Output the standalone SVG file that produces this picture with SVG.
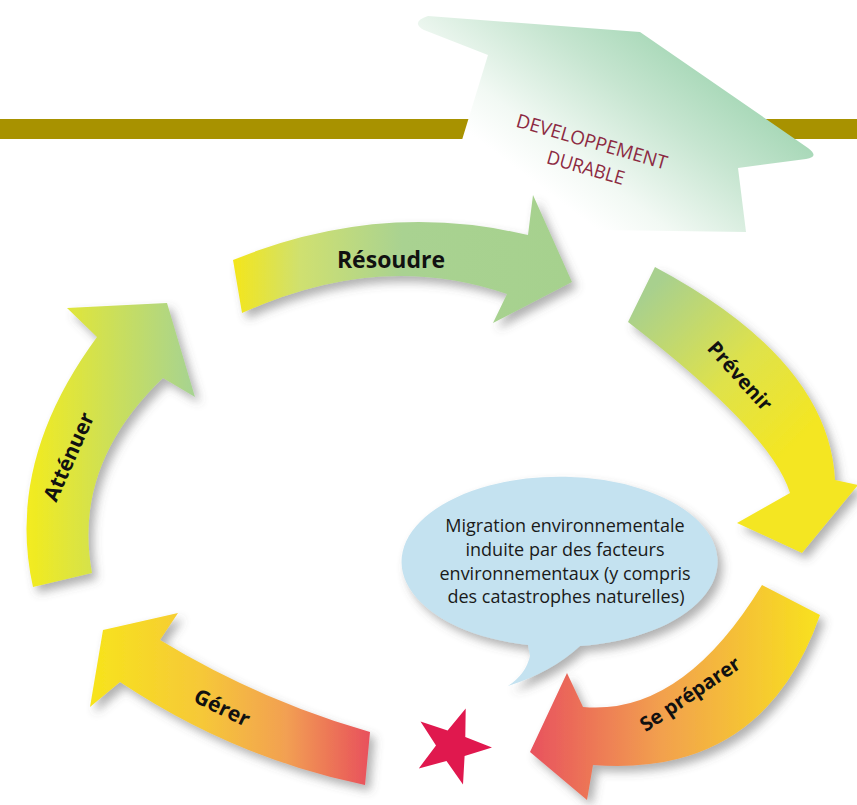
<svg xmlns="http://www.w3.org/2000/svg" width="857" height="805" viewBox="0 0 857 805">
<defs>
  <style>
    .lbl { font-family: "Open Sans", "Liberation Sans", sans-serif; font-weight: 700; fill: #111; text-anchor: middle; }
    .btxt { font-family: "Open Sans", "Liberation Sans", sans-serif; font-size: 18px; fill: #1a1a1a; text-anchor: middle; }
    .htxt { font-family: "Open Sans", "Liberation Sans", sans-serif; font-size: 19px; fill: #8c2a42; text-anchor: middle; }
  </style>
  <filter id="sh" x="-20%" y="-20%" width="140%" height="150%">
    <feDropShadow dx="5" dy="6" stdDeviation="5" flood-color="#555" flood-opacity="0.45"/>
  </filter>
  <linearGradient id="gHouse" gradientUnits="userSpaceOnUse" x1="730" y1="60" x2="600" y2="232">
    <stop offset="0" stop-color="#9ed4b0"/>
    <stop offset="0.4" stop-color="#c6e5d0"/>
    <stop offset="0.8" stop-color="#f2f9f4"/>
    <stop offset="1" stop-color="#ffffff"/>
  </linearGradient>
  <linearGradient id="gRes" gradientUnits="userSpaceOnUse" x1="233" y1="0" x2="572" y2="0">
    <stop offset="0" stop-color="#f4e61a"/>
    <stop offset="0.2" stop-color="#cfe070"/>
    <stop offset="0.5" stop-color="#a9d291"/>
    <stop offset="1" stop-color="#a6d18e"/>
  </linearGradient>
  <linearGradient id="gPre" gradientUnits="userSpaceOnUse" x1="640" y1="300" x2="790" y2="450">
    <stop offset="0" stop-color="#a8d08e"/>
    <stop offset="0.55" stop-color="#dfe24a"/>
    <stop offset="1" stop-color="#f4e622"/>
  </linearGradient>
  <linearGradient id="gSe" gradientUnits="userSpaceOnUse" x1="530" y1="0" x2="820" y2="0">
    <stop offset="0" stop-color="#e8525e"/>
    <stop offset="0.45" stop-color="#f2a04e"/>
    <stop offset="1" stop-color="#f8e21e"/>
  </linearGradient>
  <linearGradient id="gGe" gradientUnits="userSpaceOnUse" x1="90" y1="0" x2="370" y2="0">
    <stop offset="0" stop-color="#f7e41c"/>
    <stop offset="0.4" stop-color="#f6c838"/>
    <stop offset="0.7" stop-color="#f2a052"/>
    <stop offset="1" stop-color="#e8505c"/>
  </linearGradient>
  <linearGradient id="gAt" gradientUnits="userSpaceOnUse" x1="25" y1="0" x2="195" y2="0">
    <stop offset="0" stop-color="#f4ec1c"/>
    <stop offset="1" stop-color="#a6d392"/>
  </linearGradient>
</defs>

<rect width="857" height="805" fill="#ffffff"/>

<!-- gold band -->
<rect id="band" x="0" y="119" width="857" height="20" fill="#a89200"/>

<g id="house">
  <path d="M428,16 L640,32 L808,148 Q820,157 806,159 L738,168 L746,232 L458,228 L462,140 L488,55 L424,30 Q410,22 428,16 Z" fill="url(#gHouse)"/>
  <text class="htxt" transform="translate(590,148) rotate(16)" textLength="156" lengthAdjust="spacingAndGlyphs">DEVELOPPEMENT</text>
  <text class="htxt" transform="translate(584,174) rotate(16)" textLength="80" lengthAdjust="spacingAndGlyphs">DURABLE</text>
</g>

<g id="connectors">
  <g id="arrow-resoudre">
    <path d="M233,260 Q380,200 528,235 L533,195 L572,282 L493,323 L507,294 Q380,250 242,313 Z" fill="url(#gRes)" filter="url(#sh)"/>
    <text class="lbl" font-size="23" x="391" y="268">Résoudre</text>
  </g>
  <g id="arrow-prevenir">
    <path d="M655,267 Q829,360 835,480 L858,485 L802,553 L737,523 L790,493 Q771,432 628,322 Z" fill="url(#gPre)" filter="url(#sh)"/>
    <text class="lbl" font-size="20" transform="translate(740,376) rotate(48)" y="7">Prévenir</text>
  </g>
  <g id="arrow-sepreparer">
    <path d="M762,585 L820,615 Q763,778 593,765 L587,800 L530,752 L567,673 L583,707 Q682,716 762,585 Z" fill="url(#gSe)" filter="url(#sh)"/>
    <text class="lbl" font-size="20" transform="translate(690,694) rotate(-34)" y="7">Se préparer</text>
  </g>
  <g id="arrow-gerer">
    <path d="M370,732 L365,785 Q234,758 120,682 L90,707 L103,630 L178,613 L160,640 Q259,700 370,732 Z" fill="url(#gGe)" filter="url(#sh)"/>
    <text class="lbl" font-size="21" transform="translate(222,708) rotate(26)" y="7">Gérer</text>
  </g>
  <g id="arrow-attenuer">
    <path d="M33,587 Q5,462 97,337 L67,308 L167,303 L195,397 L163,378 Q72,465 92,573 Z" fill="url(#gAt)" filter="url(#sh)"/>
    <text class="lbl" font-size="21" transform="translate(69,457) rotate(-66)" y="7">Atténuer</text>
  </g>
</g>

<g id="bubble">
  <path d="M580,646 A158,85 0 1 0 528,645 L530,656 Q526,674 508,686 Q552,672 580,646 Z" fill="#c4e2f0" filter="url(#sh)"/>
  <text class="btxt" x="565" y="532">Migration environnementale</text>
  <text class="btxt" x="565" y="556">induite par des facteurs</text>
  <text class="btxt" x="565" y="580">environnementaux (y compris</text>
  <text class="btxt" x="566" y="603">des catastrophes naturelles)</text>
</g>

<g id="star">
  <polygon points="465.7,708.4 465.3,737.1 492,747.4 464.6,755.9 463,784.5 446.5,761 418.8,768.4 436,745.4 420.5,721.4 447.6,730.6" fill="#e0184e"/>
</g>
</svg>
